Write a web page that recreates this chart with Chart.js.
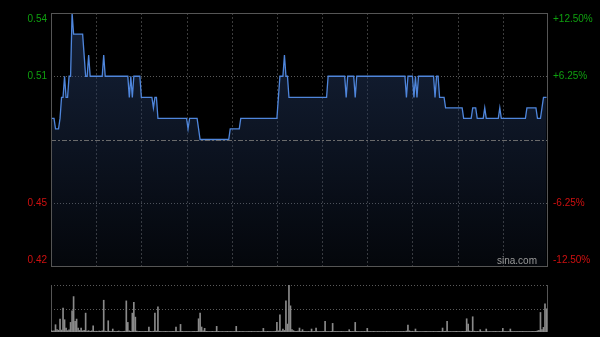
<!DOCTYPE html>
<html>
<head>
<meta charset="utf-8">
<script src="https://cdn.jsdelivr.net/npm/chart.js@4.4.1/dist/chart.umd.min.js"></script>
<style>
  html, body { margin: 0; padding: 0; background: #000; }
  #wrap { position: relative; width: 600px; height: 337px; overflow: hidden; }
  .box { position: absolute; left: 0; width: 600px; }
</style>
</head>
<body>
<div id="wrap">
  <div class="box" style="top:0;height:275px"><canvas id="priceChart" width="600" height="275"></canvas></div>
  <div class="box" style="top:275px;height:62px"><canvas id="volChart" width="600" height="62"></canvas></div>
</div>
<script>
// previous close and axis labels
const prevClose = 0.48;
const priceTicks = [0.54, 0.51, 0.48, 0.45, 0.42];
const priceLabels = ["0.54", "0.51", "", "0.45", "0.42"];
const pctLabels = ["+12.50%", "+6.25%", "", "-6.25%", "-12.50%"];

// minute labels: 09:30-12:00 and 13:01-16:00
const times = [];
for (let m = 9 * 60 + 30; m <= 12 * 60; m++) times.push(String(Math.floor(m / 60)).padStart(2, "0") + ":" + String(m % 60).padStart(2, "0"));
for (let m = 13 * 60 + 1; m <= 16 * 60; m++) times.push(String(Math.floor(m / 60)).padStart(2, "0") + ":" + String(m % 60).padStart(2, "0"));

// price per minute
const prices = [
  0.49, 0.49, 0.49, 0.485, 0.485, 0.485, 0.49, 0.50, 0.50, 0.51,
  0.50, 0.50, 0.51, 0.51, 0.54, 0.53, 0.53, 0.53, 0.53, 0.53,
  0.53, 0.53, 0.52, 0.51, 0.51, 0.52, 0.51, 0.51, 0.51, 0.51,
  0.51, 0.51, 0.51, 0.51, 0.51, 0.52, 0.51, 0.51, 0.51, 0.51,
  0.51, 0.51, 0.51, 0.51, 0.51, 0.51, 0.51, 0.51, 0.51, 0.51,
  0.51, 0.51, 0.50, 0.51, 0.50, 0.51, 0.51, 0.51, 0.51, 0.51,
  0.50, 0.50, 0.50, 0.50, 0.50, 0.50, 0.50, 0.50, 0.495, 0.50,
  0.50, 0.49, 0.49, 0.49, 0.49, 0.49, 0.49, 0.49, 0.49, 0.49,
  0.49, 0.49, 0.49, 0.49, 0.49, 0.49, 0.49, 0.49, 0.49, 0.49,
  0.49, 0.485, 0.49, 0.49, 0.49, 0.49, 0.49, 0.49, 0.485, 0.48,
  0.48, 0.48, 0.48, 0.48, 0.48, 0.48, 0.48, 0.48, 0.48, 0.48,
  0.48, 0.48, 0.48, 0.48, 0.48, 0.48, 0.48, 0.48, 0.48, 0.485,
  0.485, 0.485, 0.485, 0.485, 0.485, 0.485, 0.49, 0.49, 0.49, 0.49,
  0.49, 0.49, 0.49, 0.49, 0.49, 0.49, 0.49, 0.49, 0.49, 0.49,
  0.49, 0.49, 0.49, 0.49, 0.49, 0.49, 0.49, 0.49, 0.49, 0.49,
  0.49, 0.50, 0.51, 0.51, 0.51, 0.52, 0.51, 0.51, 0.50, 0.50,
  0.50, 0.50, 0.50, 0.50, 0.50, 0.50, 0.50, 0.50, 0.50, 0.50,
  0.50, 0.50, 0.50, 0.50, 0.50, 0.50, 0.50, 0.50, 0.50, 0.50,
  0.50, 0.50, 0.50, 0.50, 0.51, 0.51, 0.51, 0.51, 0.51, 0.51,
  0.51, 0.51, 0.51, 0.51, 0.51, 0.51, 0.50, 0.51, 0.51, 0.51,
  0.51, 0.51, 0.50, 0.51, 0.51, 0.51, 0.51, 0.51, 0.51, 0.51,
  0.51, 0.51, 0.51, 0.51, 0.51, 0.51, 0.51, 0.51, 0.51, 0.51,
  0.51, 0.51, 0.51, 0.51, 0.51, 0.51, 0.51, 0.51, 0.51, 0.51,
  0.51, 0.51, 0.51, 0.51, 0.51, 0.51, 0.50, 0.51, 0.51, 0.51,
  0.51, 0.50, 0.51, 0.50, 0.51, 0.51, 0.51, 0.51, 0.51, 0.51,
  0.51, 0.51, 0.51, 0.51, 0.51, 0.50, 0.51, 0.51, 0.50, 0.50,
  0.50, 0.50, 0.495, 0.495, 0.495, 0.495, 0.495, 0.495, 0.495, 0.495,
  0.495, 0.495, 0.495, 0.495, 0.49, 0.49, 0.49, 0.49, 0.49, 0.49,
  0.495, 0.495, 0.495, 0.49, 0.49, 0.49, 0.49, 0.49, 0.495, 0.49,
  0.49, 0.49, 0.49, 0.49, 0.49, 0.49, 0.49, 0.49, 0.495, 0.49,
  0.49, 0.49, 0.49, 0.49, 0.49, 0.49, 0.49, 0.49, 0.49, 0.49,
  0.49, 0.49, 0.49, 0.49, 0.49, 0.49, 0.495, 0.495, 0.495, 0.495,
  0.495, 0.495, 0.495, 0.49, 0.49, 0.49, 0.495, 0.50, 0.50, 0.50
];

// volume per minute, thousand shares (estimated)
const volumes = [
  40, 25, 30, 186, 60, 45, 330, 50, 608, 313,
  101, 35, 55, 245, 541, 904, 270, 330, 101, 40,
  101, 30, 45, 482, 25, 35, 20, 30, 160, 15,
  20, 12, 25, 18, 30, 811, 22, 15, 287, 20,
  12, 76, 15, 10, 18, 25, 12, 8, 15, 20,
  794, 245, 30, 18, 482, 760, 380, 25, 12, 15,
  10, 8, 12, 15, 10, 127, 18, 12, 20, 482,
  25, 642, 15, 10, 8, 12, 15, 10, 6, 12,
  10, 15, 8, 127, 12, 10, 194, 15, 8, 10,
  12, 8, 10, 6, 12, 15, 10, 20, 338, 482,
  127, 30, 93, 20, 12, 10, 8, 15, 10, 12,
  144, 15, 10, 8, 12, 6, 10, 15, 8, 12,
  10, 8, 12, 144, 10, 15, 8, 12, 10, 6,
  8, 12, 10, 15, 8, 10, 6, 12, 10, 8,
  12, 93, 10, 8, 15, 10, 12, 8, 10, 20,
  245, 30, 439, 25, 76, 40, 794, 203, 1200, 668,
  60, 35, 20, 15, 25, 101, 18, 59, 15, 12,
  10, 15, 12, 76, 10, 15, 101, 12, 8, 10,
  12, 15, 270, 10, 12, 8, 15, 220, 10, 12,
  8, 10, 12, 15, 10, 8, 12, 10, 59, 15,
  12, 10, 245, 15, 10, 8, 12, 10, 15, 8,
  93, 10, 12, 8, 15, 10, 6, 12, 10, 8,
  10, 12, 8, 15, 10, 12, 6, 10, 8, 12,
  10, 8, 12, 10, 15, 12, 25, 177, 30, 15,
  20, 12, 76, 15, 10, 12, 8, 10, 12, 15,
  10, 8, 12, 10, 15, 12, 10, 20, 15, 12,
  101, 15, 20, 270, 12, 10, 8, 12, 10, 15,
  10, 12, 8, 15, 12, 20, 338, 203, 25, 15,
  389, 20, 12, 15, 10, 59, 12, 10, 8, 76,
  10, 12, 8, 10, 12, 15, 10, 8, 12, 10,
  93, 12, 10, 8, 12, 76, 10, 8, 12, 10,
  8, 12, 10, 15, 8, 10, 12, 10, 8, 12,
  15, 12, 20, 30, 45, 499, 60, 118, 718, 592,
  0
];
const volMax = 1200;

const FONT = "10px 'Liberation Sans', Arial, sans-serif";

function vline(ctx, px, top, bottom) {
  ctx.beginPath();
  ctx.moveTo(px, top);
  ctx.lineTo(px, bottom);
  ctx.stroke();
}
function hline(ctx, py, left, right) {
  ctx.beginPath();
  ctx.moveTo(left, py);
  ctx.lineTo(right, py);
  ctx.stroke();
}

// grid, frame and side labels for the price panel
const priceFrame = {
  id: "priceFrame",
  beforeDatasetsDraw(chart) {
    const { ctx, chartArea: a, scales: { x, y } } = chart;
    ctx.save();
    ctx.lineWidth = 1;
    ctx.strokeStyle = "#3c3c3c";
    ctx.setLineDash([2, 2]);
    for (let i = 30; i < times.length - 1; i += 30) {
      vline(ctx, Math.round(x.getPixelForValue(i)) + 0.5, a.top, a.bottom);
    }
    ctx.strokeStyle = "#5a5a5a";
    ctx.setLineDash([1, 2]);
    priceTicks.forEach((v) => {
      if (v === prevClose || v === y.max || v === y.min) return;
      hline(ctx, Math.round(y.getPixelForValue(v)) + 0.5, a.left, a.right);
    });
    ctx.restore();
  },
  afterDatasetsDraw(chart) {
    const { ctx, chartArea: a, scales: { y } } = chart;
    ctx.save();
    ctx.lineWidth = 1;
    ctx.strokeStyle = "#6a6a6a";
    ctx.setLineDash([5, 2, 2, 2]);
    hline(ctx, Math.round(y.getPixelForValue(prevClose)) + 0.5, a.left, a.right);
    ctx.setLineDash([]);
    ctx.strokeStyle = "#555";
    ctx.strokeRect(a.left + 0.5, a.top + 0.5, a.right - a.left - 1, a.bottom - a.top);

    ctx.font = FONT;
    ctx.textBaseline = "middle";
    priceTicks.forEach((v, i) => {
      if (!priceLabels[i]) return;
      let py = y.getPixelForValue(v);
      py = Math.min(Math.max(py, a.top + 6), a.bottom - 6);
      ctx.fillStyle = v > prevClose ? "#0fa00f" : "#d01010";
      ctx.textAlign = "right";
      ctx.fillText(priceLabels[i], a.left - 4, py);
      ctx.textAlign = "left";
      ctx.fillText(pctLabels[i], a.right + 5, py);
    });

    ctx.fillStyle = "#9a9a9a";
    ctx.textAlign = "right";
    ctx.textBaseline = "alphabetic";
    ctx.fillText("sina.com", a.right - 11, a.bottom - 2);
    ctx.restore();
  },
};

new Chart(document.getElementById("priceChart"), {
  type: "line",
  data: {
    labels: times,
    datasets: [
      {
        data: prices,
        borderColor: "#4f86dc",
        borderWidth: 1.3,
        pointRadius: 0,
        tension: 0,
        clip: 4,
        fill: "start",
        backgroundColor: (c) => {
          const a = c.chart.chartArea;
          if (!a) return "rgba(30,50,90,0.3)";
          const g = c.chart.ctx.createLinearGradient(0, a.top, 0, a.bottom);
          g.addColorStop(0, "rgba(34,54,92,0.62)");
          g.addColorStop(1, "rgba(34,54,92,0.12)");
          return g;
        },
      },
    ],
  },
  options: {
    responsive: false,
    animation: false,
    layout: { padding: { left: 51, right: 52, top: 13, bottom: 9 } },
    plugins: { legend: { display: false }, tooltip: { enabled: false } },
    scales: {
      x: { type: "category", display: false, offset: false },
      y: { display: false, min: 0.42, max: 0.54 },
    },
  },
  plugins: [priceFrame],
});

// volume panel frame
const volFrame = {
  id: "volFrame",
  beforeDatasetsDraw(chart) {
    const { ctx, chartArea: a, scales: { y } } = chart;
    ctx.save();
    ctx.lineWidth = 1;
    ctx.strokeStyle = "#5a5a5a";
    ctx.setLineDash([1, 2]);
    [volMax, volMax / 2].forEach((v) => {
      hline(ctx, Math.round(y.getPixelForValue(v)) + 0.5, a.left, a.right);
    });
    ctx.setLineDash([]);
    ctx.strokeStyle = "#555";
    vline(ctx, a.left + 0.5, a.top, a.bottom);
    vline(ctx, a.right - 0.5, a.top, a.bottom);
    ctx.strokeStyle = "#3a3a3a";
    hline(ctx, a.bottom - 0.5, a.left, a.right);
    ctx.restore();
  },
};

new Chart(document.getElementById("volChart"), {
  type: "bar",
  data: {
    labels: times,
    datasets: [
      {
        data: volumes,
        backgroundColor: "#8a8a8a",
        barThickness: 1,
      },
    ],
  },
  options: {
    responsive: false,
    animation: false,
    layout: { padding: { left: 51, right: 52, top: 10, bottom: 5 } },
    plugins: { legend: { display: false }, tooltip: { enabled: false } },
    scales: {
      x: { type: "category", display: false, offset: false },
      y: { display: false, min: 0, max: volMax },
    },
  },
  plugins: [volFrame],
});
</script>
</body>
</html>
